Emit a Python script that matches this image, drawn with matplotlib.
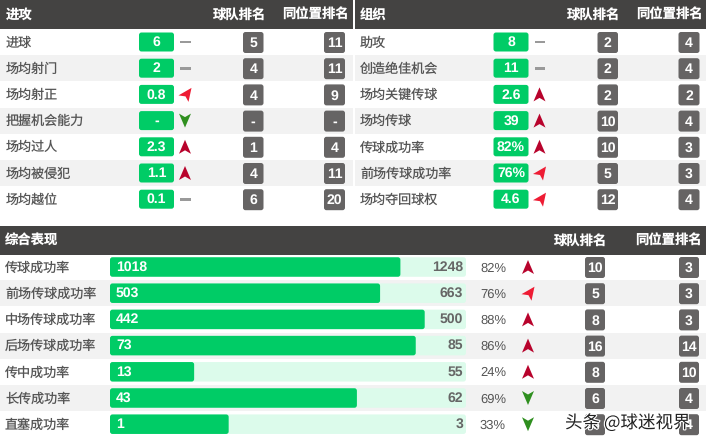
import matplotlib
matplotlib.use("Agg")
import matplotlib.pyplot as plt
from matplotlib.patches import FancyBboxPatch, Rectangle, Polygon
import matplotlib.patheffects as pe

plt.rcParams['text.hinting'] = 'none'
plt.rcParams['text.hinting_factor'] = 1

FAM = ['Liberation Sans', 'Noto Sans CJK SC']
CJK = ['Noto Sans CJK SC', 'DejaVu Sans']

attack_title = "进攻"
attack_labels = ["进球", "场均射门", "场均射正", "把握机会能力", "场均过人", "场均被侵犯", "场均越位"]
attack_values = ["6", "2", "0.8", "-", "2.3", "1.1", "0.1"]
attack_trend = ["flat", "flat", "diag", "down", "up", "up", "flat"]
attack_team = ["5", "4", "4", "-", "1", "4", "6"]
attack_pos = ["11", "11", "9", "-", "4", "11", "20"]

org_title = "组织"
org_labels = ["助攻", "创造绝佳机会", "场均关键传球", "场均传球", "传球成功率", "前场传球成功率", "场均夺回球权"]
org_values = ["8", "11", "2.6", "39", "82%", "76%", "4.6"]
org_trend = ["flat", "flat", "up", "up", "up", "diag", "diag"]
org_team = ["2", "2", "2", "10", "10", "5", "12"]
org_pos = ["4", "4", "2", "4", "3", "3", "4"]

overall_title = "综合表现"
overall_labels = ["传球成功率", "前场传球成功率", "中场传球成功率", "后场传球成功率", "传中成功率", "长传成功率", "直塞成功率"]
overall_made = [1018, 503, 442, 73, 13, 43, 1]
overall_total = [1248, 663, 500, 85, 55, 62, 3]
overall_pct = ["82%", "76%", "88%", "86%", "24%", "69%", "33%"]
overall_trend = ["up", "diag", "up", "up", "up", "down", "down"]
overall_team = ["10", "5", "8", "16", "8", "6", "6"]
overall_pos = ["3", "3", "3", "14", "10", "4", "4"]

team_head = "球队排名"
pos_head = "同位置排名"
watermark = "头条 @球迷视界"

HEAD = "#444342"
STRIPE = "#f2f2f2"
GREEN = "#00cc66"
TRACK = "#dcfbeb"
GREY = "#666464"
TXT = "#555555"

fig = plt.figure(figsize=(7.06, 4.43), dpi=100)
ax = fig.add_axes([0, 0, 1, 1])
ax.set_xlim(0, 706)
ax.set_ylim(443, 0)
ax.axis("off")

PITCH = 26.2
BASE = 4.6


def rbox(x0, x1, yc, h, color, r=2.5, z=3):
    ax.add_patch(FancyBboxPatch((x0 + r, yc - h / 2 + r), x1 - x0 - 2 * r, h - 2 * r,
                                boxstyle=f"round,pad={r},rounding_size={r}",
                                fc=color, ec="none", zorder=z))


def bold(x, y, s, color="white", ha="center", size=9.6, z=5):
    ax.text(x, y + BASE, s, color=color, ha=ha, va="baseline", fontsize=size,
            fontweight="bold", family=FAM, zorder=z)


def label(x, y, s):
    ax.text(x, y + BASE, s, color=TXT, ha="left", va="baseline", fontsize=9.4, family=CJK, zorder=5)


def trend(kind, x, y):
    if kind == "flat":
        ax.add_patch(Rectangle((x - 5, y - 1.4), 10.5, 2.8, fc="#9a9a9a", ec="none", zorder=4))
    elif kind == "up":
        ax.add_patch(Polygon([(x, y - 7), (x + 6, y + 7), (x, y + 3.5), (x - 6, y + 7)],
                             fc="#b8032c", ec="none", zorder=4))
    elif kind == "down":
        ax.add_patch(Polygon([(x, y + 7), (x + 6, y - 7), (x, y - 3.5), (x - 6, y - 7)],
                             fc="#2f8f1f", ec="none", zorder=4))
    else:
        ax.add_patch(Polygon([(x + 6.5, y - 6.5), (x + 3.5, y + 7.5), (x + 0.5, y + 2), (x - 6.5, y + 1)],
                             fc="#ee1c34", ec="none", zorder=4))


def header(x0, x1, y0, title, title_x, team_x, pos_x):
    ax.add_patch(Rectangle((x0, y0), x1 - x0, 28.5, fc=HEAD, ec="none", zorder=1))
    yc = y0 + 14.5
    bold(title_x, yc, title, ha="left", size=9.6)
    bold(team_x, yc, team_head, size=9.6)
    bold(pos_x, yc, pos_head, size=9.6)


def stripes(x0, x1, y0):
    for i in range(1, 7, 2):
        ax.add_patch(Rectangle((x0, y0 + i * PITCH - PITCH / 2), x1 - x0, PITCH,
                               fc=STRIPE, ec="none", zorder=0))


def panel(x0, x1, off, title, labels, values, trends, team, pos):
    header(x0, x1, 0, title, off + 5.5, off + 239.5, off + 315)
    stripes(x0, x1, 42)
    for i, lab in enumerate(labels):
        y = 42 + i * PITCH
        label(off + 5.5, y, lab)
        rbox(off + 139, off + 174, y, 19, GREEN)
        bold(off + 156.5, y - 0.5, values[i], size=9.8)
        trend(trends[i], off + 185, y)
        rbox(off + 243, off + 263.5, y + 0.5, 21, GREY)
        bold(off + 253.2, y + 0.5, team[i], size=9.8)
        rbox(off + 324, off + 345, y + 0.5, 21, GREY)
        bold(off + 334.5, y + 0.5, pos[i], size=9.8)


panel(0, 353, 0, attack_title, attack_labels, attack_values, attack_trend, attack_team, attack_pos)
panel(355, 706, 354.5, org_title, org_labels, org_values, org_trend, org_team, org_pos)

# Overall panel
Y0 = 267
header(0, 706, 226, overall_title, 5, 581, 668.5)
stripes(0, 706, Y0)
TX0, TW = 110, 356
for i, lab in enumerate(overall_labels):
    y = Y0 + i * PITCH
    label(5, y, lab)
    rbox(TX0, TX0 + TW, y, 19.5, TRACK, z=2)
    rbox(TX0, TX0 + TW * overall_made[i] / overall_total[i], y, 19.5, GREEN, z=3)
    bold(116, y - 1, str(overall_made[i]), ha="left", size=9.8)
    bold(463, y - 1, str(overall_total[i]), color="#666666", ha="right", size=9.8)
    ax.text(493, y + BASE, overall_pct[i], color=TXT, ha="center", va="baseline", fontsize=9.6, family=FAM, zorder=5)
    trend(overall_trend[i], 528, y)
    rbox(585, 605, y + 0.5, 21, GREY)
    bold(595, y + 0.5, overall_team[i], size=9.8)
    rbox(679, 699, y + 0.5, 21, GREY)
    bold(689, y + 0.5, overall_pos[i], size=9.8)

ax.text(565, 428, watermark, color="#222222", ha="left", va="baseline", fontsize=12.6,
        family=CJK, zorder=8,
        path_effects=[pe.withStroke(linewidth=1.6, foreground="white")])

fig.savefig("out.png", dpi=100, facecolor="white")
